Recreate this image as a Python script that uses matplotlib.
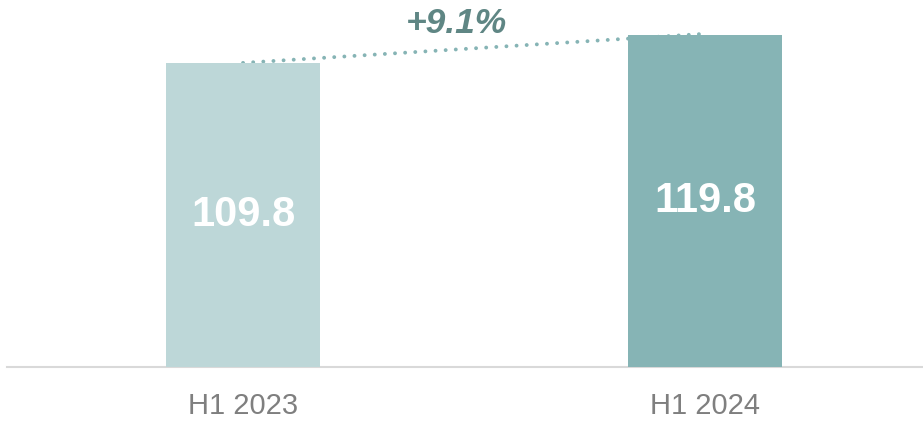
import matplotlib.pyplot as plt

plt.rcParams['font.family'] = ['Liberation Sans', 'DejaVu Sans']

# Data
periods = ["H1 2023", "H1 2024"]
values = [109.8, 119.8]
growth_label = "+9.1%"
bar_colors = ["#BDD7D8", "#86B4B5"]

fig = plt.figure(figsize=(9.23, 4.21), dpi=100)
ax = fig.add_axes([7 / 923, (421 - 367) / 421, 916 / 923, 367 / 421])

x = list(range(len(values)))
ax.bar(x, values, width=0.333, color=bar_colors, zorder=3)

# value labels inside bars
for xi, v in zip(x, values):
    ax.text(xi, v / 2, f"{v:.1f}", ha="center", va="center",
            color="white", fontsize=30, fontweight="bold", zorder=4)

# dotted growth line between bar tops
ax.plot([x[0], x[1]], [values[0], values[1] + 0.5], linestyle=(0, (0.01, 2.6)),
        dash_capstyle="round", color="#86B4B5", linewidth=2.8, zorder=2)
ax.text(0.461, 124.0, growth_label, ha="center", va="center", color="#5F8684",
        fontsize=25.5, fontweight="bold", fontstyle="italic")

ax.set_xlim(-0.511, 1.472)
ax.set_ylim(0, 132.5)
ax.set_xticks(x)
ax.set_xticklabels(periods, fontsize=21, color="#7F7F7F")
ax.tick_params(axis="x", length=0, pad=18)
ax.set_yticks([])
for side in ["top", "right", "left"]:
    ax.spines[side].set_visible(False)
ax.spines["bottom"].set_color("#D9D9D9")
ax.spines["bottom"].set_linewidth(1.5)

fig.savefig("out.png", dpi=100)
